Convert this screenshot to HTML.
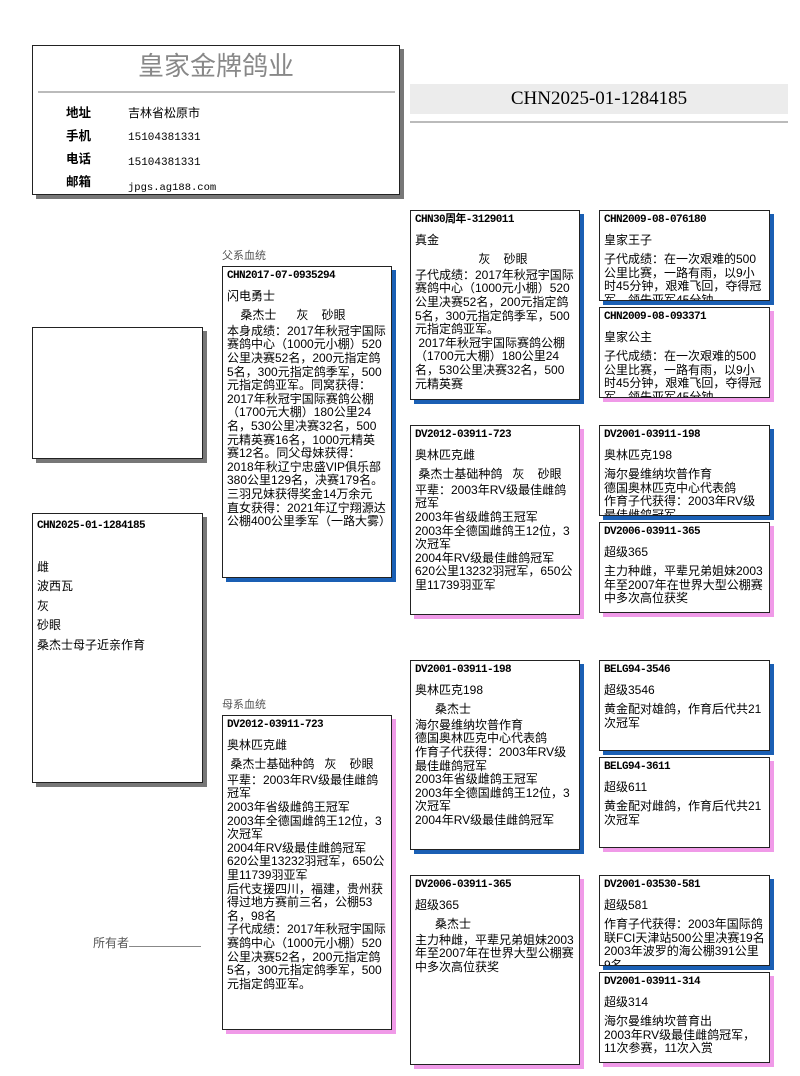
<!DOCTYPE html>
<html><head><meta charset="utf-8"><style>
body{margin:0;width:800px;height:1076px;background:#fff;position:relative;overflow:hidden;font-family:"Liberation Sans","Noto Sans CJK SC",sans-serif;color:#000}
.a{position:absolute}
.box{position:absolute;border:1px solid #222;background:#fff;box-sizing:border-box;overflow:hidden;padding:3px 4px;font-size:12px;line-height:13.6px}
.m{box-shadow:4px 4px 0 #1a5fb4}
.f{box-shadow:4px 4px 0 #f09ae8}
.g{box-shadow:4px 4px 0 #777}
.id{font-family:"Liberation Mono","Noto Sans CJK SC",monospace;font-weight:bold;font-size:11px;letter-spacing:-0.6px;margin-bottom:6px}
.nm{font-size:12px;margin-bottom:6px}
.lbl{font-size:11px;color:#555}
</style></head><body>
<div class="box g" style="left:32px;top:45px;width:368px;height:150px;padding:0">
 <div class="a" style="left:0;width:366px;top:3px;text-align:center;font-size:26px;color:#888;line-height:34px">皇家金牌鸽业</div>
 <div class="a" style="left:5px;width:357px;top:45px;border-top:2px solid #bbb"></div>
 <div class="a" style="left:33px;top:56px;font-size:12.5px;font-weight:bold;line-height:23px">地址<br>手机<br>电话<br>邮箱</div>
 <div class="a" style="left:95px;top:56px;font-size:12px;line-height:23px">吉林省松原市<br><span style="font-family:'Liberation Mono';font-size:11px">15104381331</span><br><span style="font-family:'Liberation Mono';font-size:11px">15104381331</span><br><span style="font-family:'Liberation Mono';font-size:10.5px">jpgs.ag188.com</span></div>
</div>
<div class="a" style="left:410px;top:84px;width:378px;height:30px;background:#ececec;text-align:center;font-family:'Liberation Serif',serif;font-size:19px;line-height:30px">CHN2025-01-1284185</div>
<div class="a" style="left:410px;top:121px;width:378px;border-top:2px solid #bbb"></div>

<div class="box g" style="left:32px;top:327px;width:171px;height:132px"></div>
<div class="box g" style="left:32px;top:513px;width:171px;height:270px;font-size:12px;line-height:19.5px">
<div class="id" style="margin-bottom:21px">CHN2025-01-1284185</div>雌<br>波西瓦<br>灰<br>砂眼<br>桑杰士母子近亲作育</div>
<div class="a lbl" style="left:93px;top:934px;font-size:12px">所有者<span style="display:inline-block;width:72px;border-bottom:1px solid #888"></span></div>

<div class="a lbl" style="left:222px;top:247px">父系血统</div>
<div class="box m" style="left:222px;top:266px;width:170px;height:312px">
<div class="id">CHN2017-07-0935294</div><div class="nm">闪电勇士</div>
<div style="margin-bottom:2px">&nbsp;&nbsp;&nbsp;&nbsp;桑杰士&nbsp;&nbsp;&nbsp;&nbsp;&nbsp;&nbsp;灰&nbsp;&nbsp;&nbsp;&nbsp;砂眼</div>
本身成绩：2017年秋冠宇国际赛鸽中心（1000元小棚）520公里决赛52名，200元指定鸽5名，300元指定鸽季军，500元指定鸽亚军。同窝获得：2017年秋冠宇国际赛鸽公棚（1700元大棚）180公里24名，530公里决赛32名，500元精英赛16名，1000元精英赛12名。同父母妹获得：2018年秋辽宁忠盛VIP俱乐部380公里129名，决赛179名。三羽兄妹获得奖金14万余元<br>直女获得：2021年辽宁翔源达公棚400公里季军（一路大雾）</div>

<div class="a lbl" style="left:222px;top:696px">母系血统</div>
<div class="box f" style="left:222px;top:715px;width:170px;height:315px">
<div class="id">DV2012-03911-723</div><div class="nm">奥林匹克雌</div>
<div style="margin-bottom:2px">&nbsp;桑杰士基础种鸽&nbsp;&nbsp;&nbsp;灰&nbsp;&nbsp;&nbsp;&nbsp;砂眼</div>
平辈：2003年RV级最佳雌鸽冠军<br>2003年省级雌鸽王冠军<br>2003年全德国雌鸽王12位，3次冠军<br>2004年RV级最佳雌鸽冠军<br>620公里13232羽冠军，650公里11739羽亚军<br>后代支援四川，福建，贵州获得过地方赛前三名，公棚53名，98名<br>子代成绩：2017年秋冠宇国际赛鸽中心（1000元小棚）520公里决赛52名，200元指定鸽5名，300元指定鸽季军，500元指定鸽亚军。</div>

<div class="box m" style="left:410px;top:210px;width:170px;height:190px">
<div class="id">CHN30周年-3129011</div><div class="nm">真金</div>
<div style="margin-bottom:2px">&nbsp;&nbsp;&nbsp;&nbsp;&nbsp;&nbsp;&nbsp;&nbsp;&nbsp;&nbsp;&nbsp;&nbsp;&nbsp;&nbsp;&nbsp;&nbsp;&nbsp;&nbsp;&nbsp;灰&nbsp;&nbsp;&nbsp;&nbsp;砂眼</div>
子代成绩：2017年秋冠宇国际赛鸽中心（1000元小棚）520公里决赛52名，200元指定鸽5名，300元指定鸽季军，500元指定鸽亚军。<br>&nbsp;2017年秋冠宇国际赛鸽公棚（1700元大棚）180公里24名，530公里决赛32名，500元精英赛</div>
<div class="box f" style="left:410px;top:425px;width:170px;height:190px">
<div class="id">DV2012-03911-723</div><div class="nm">奥林匹克雌</div>
<div style="margin-bottom:2px">&nbsp;桑杰士基础种鸽&nbsp;&nbsp;&nbsp;灰&nbsp;&nbsp;&nbsp;&nbsp;砂眼</div>
平辈：2003年RV级最佳雌鸽冠军<br>2003年省级雌鸽王冠军<br>2003年全德国雌鸽王12位，3次冠军<br>2004年RV级最佳雌鸽冠军<br>620公里13232羽冠军，650公里11739羽亚军</div>
<div class="box m" style="left:410px;top:660px;width:170px;height:190px">
<div class="id">DV2001-03911-198</div><div class="nm">奥林匹克198</div>
<div style="margin-bottom:2px">&nbsp;&nbsp;&nbsp;&nbsp;&nbsp;&nbsp;桑杰士</div>
海尔曼维纳坎普作育<br>德国奥林匹克中心代表鸽<br>作育子代获得：2003年RV级最佳雌鸽冠军<br>2003年省级雌鸽王冠军<br>2003年全德国雌鸽王12位，3次冠军<br>2004年RV级最佳雌鸽冠军</div>
<div class="box f" style="left:410px;top:875px;width:170px;height:190px">
<div class="id">DV2006-03911-365</div><div class="nm">超级365</div>
<div style="margin-bottom:2px">&nbsp;&nbsp;&nbsp;&nbsp;&nbsp;&nbsp;桑杰士</div>
主力种雌，平辈兄弟姐妹2003年至2007年在世界大型公棚赛中多次高位获奖</div>

<div class="box m" style="left:599px;top:210px;width:171px;height:91px">
<div class="id">CHN2009-08-076180</div><div class="nm">皇家王子</div>子代成绩：在一次艰难的500公里比赛，一路有雨，以9小时45分钟，艰难飞回，夺得冠军，领先亚军45分钟</div>
<div class="box f" style="left:599px;top:307px;width:171px;height:91px">
<div class="id">CHN2009-08-093371</div><div class="nm">皇家公主</div>子代成绩：在一次艰难的500公里比赛，一路有雨，以9小时45分钟，艰难飞回，夺得冠军，领先亚军45分钟</div>
<div class="box m" style="left:599px;top:425px;width:171px;height:91px">
<div class="id">DV2001-03911-198</div><div class="nm">奥林匹克198</div>海尔曼维纳坎普作育<br>德国奥林匹克中心代表鸽<br>作育子代获得：2003年RV级最佳雌鸽冠军</div>
<div class="box f" style="left:599px;top:522px;width:171px;height:91px">
<div class="id">DV2006-03911-365</div><div class="nm">超级365</div>主力种雌，平辈兄弟姐妹2003年至2007年在世界大型公棚赛中多次高位获奖</div>
<div class="box m" style="left:599px;top:660px;width:171px;height:91px">
<div class="id">BELG94-3546</div><div class="nm">超级3546</div>黄金配对雄鸽，作育后代共21次冠军</div>
<div class="box f" style="left:599px;top:757px;width:171px;height:91px">
<div class="id">BELG94-3611</div><div class="nm">超级611</div>黄金配对雌鸽，作育后代共21次冠军</div>
<div class="box m" style="left:599px;top:875px;width:171px;height:91px">
<div class="id">DV2001-03530-581</div><div class="nm">超级581</div>作育子代获得：2003年国际鸽联FCI天津站500公里决赛19名<br>2003年波罗的海公棚391公里9名</div>
<div class="box f" style="left:599px;top:972px;width:171px;height:91px">
<div class="id">DV2001-03911-314</div><div class="nm">超级314</div>海尔曼维纳坎普育出<br>2003年RV级最佳雌鸽冠军，11次参赛，11次入赏</div>
</body></html>
